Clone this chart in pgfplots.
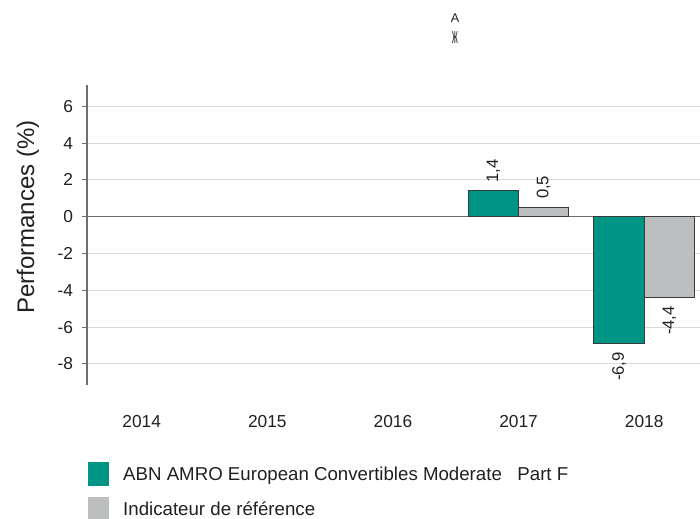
\documentclass[border=0pt]{standalone}
\usepackage{fontspec}
\setmainfont{Liberation Sans}
\usepackage{graphicx}
\usepackage{pgfplots}
\pgfplotsset{compat=1.18}
\definecolor{abngreen}{HTML}{009485}
\definecolor{refgrey}{HTML}{BCBEC0}
\definecolor{axgrey}{HTML}{6D6E70}
\definecolor{gridgrey}{HTML}{D9D9D9}
\definecolor{txt}{HTML}{231F20}
\definecolor{bordergrey}{HTML}{3A3A3A}
\begin{document}
\begin{tikzpicture}[x=1pt,y=1pt]
\useasboundingbox (0,0) rectangle (525,388.5);
\begin{axis}[
  at={(65.25pt,99.75pt)}, anchor=south west,
  width=459.75pt, height=225pt, scale only axis,
  xmin=-0.435, xmax=4.444, ymin=-9.15, ymax=7.16,
  xtick={0,1,2,3,4}, xticklabels={2014,2015,2016,2017,2018},
  ytick={-8,-6,-4,-2,0,2,4,6},
  axis y line*=left, axis x line*=bottom,
  x axis line style={draw=none},
  y axis line style={axgrey, line width=1pt, -},
  xtick style={draw=none},
  ytick style={axgrey, line width=0.8pt},
  tick align=outside, major tick length=3.75pt,
  ymajorgrids, grid style={gridgrey, line width=0.7pt},
  extra y ticks={0}, extra y tick labels={},
  extra y tick style={grid style={axgrey, line width=1pt}},
  /pgf/number format/assume math mode=true,
  ticklabel style={font=\fontsize{13}{15}\selectfont, text=txt},
  xticklabel style={inner sep=0pt, yshift=-18.5pt},
  yticklabel style={inner sep=0pt, xshift=-6.5pt},
  ybar, bar width=0.4,
  nodes near coords={\pgfmathprintnumber[use comma, fixed, precision=1, fixed zerofill, assume math mode=true]{\pgfplotspointmeta}},
  every node near coord/.append style={font=\fontsize{12.5}{14}\selectfont, text=txt, rotate=90, inner xsep=6pt, inner ysep=0pt},
  legend style={at={(0.0016,-0.257)}, anchor=north west, draw=none, fill=none, inner sep=0pt, row sep=8.25pt,
    nodes={inner sep=0pt, font=\fontsize{14}{16}\selectfont, text=txt},
    /tikz/every odd column/.append style={column sep=10.5pt}},
  legend cell align=left,
  legend image code/.code={\fill[#1,draw=none] (0pt,-8.75pt) rectangle (15.75pt,9.25pt);},
]
\addplot[fill=abngreen, draw=bordergrey, line width=0.75pt, bar shift=-0.2,
  every node near coord/.append style={anchor=west}]
  coordinates {(3,1.4)};
\addlegendentry{ABN AMRO European Convertibles Moderate\ \ \ Part F}
\addplot[fill=refgrey, draw=bordergrey, line width=0.75pt, bar shift=0.2,
  every node near coord/.append style={anchor=west}]
  coordinates {(3,0.5)};
\addlegendentry{Indicateur de référence}
\addplot[fill=abngreen, draw=bordergrey, line width=0.75pt, bar shift=-0.2, forget plot,
  every node near coord/.append style={anchor=east}]
  coordinates {(4,-6.9)};
\addplot[fill=refgrey, draw=bordergrey, line width=0.75pt, bar shift=0.2, forget plot,
  every node near coord/.append style={anchor=east}]
  coordinates {(4,-4.4)};
\end{axis}
\node[rotate=90, font=\fontsize{18}{20}\selectfont, text=txt] at (21,225.75) {Performances (\%)};
\node[font=\fontsize{9.5}{11}\selectfont, text=txt, inner sep=0pt] at (341.25,375) {A};
\node[font=\fontsize{8}{8}\selectfont, text=txt, inner sep=0pt] at (341.25,360.5) {\scalebox{0.8}[2.1]{ж}};
\end{tikzpicture}
\end{document}
